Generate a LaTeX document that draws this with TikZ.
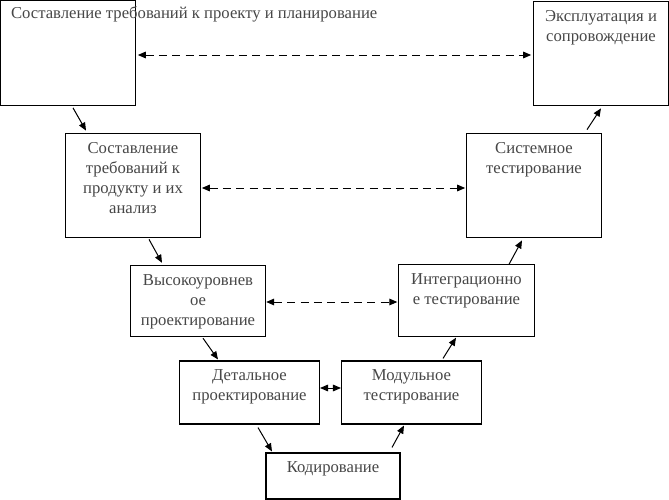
\documentclass[tikz,border=0pt]{standalone}
\usepackage{fontspec}
\setmainfont{Liberation Serif}
\usetikzlibrary{arrows.meta,positioning,calc}

\begin{document}
\begin{tikzpicture}[x=0.75pt,y=-0.75pt,
    stage/.style={draw,line width=0.8pt,inner sep=0pt,fill=white},
    big/.style={stage,minimum width=101pt,minimum height=78.5pt},
    mid/.style={stage,minimum width=101.5pt,minimum height=53.5pt},
    low/.style={stage,minimum width=105pt,minimum height=47.25pt},
    txt/.style={text=black!72,font=\fontsize{12.5}{15}\selectfont,align=center,inner sep=0pt},
    head/.style={-{Triangle[length=6pt,width=5pt]}},
    flow/.style={line width=0.75pt,head},
    link/.style={line width=0.75pt,{Triangle[length=6pt,width=5pt]}-{Triangle[length=6pt,width=5pt]}}]
    \useasboundingbox (0,0) rectangle (669,500);

    % Left branch
    \node[big,label={[txt,anchor=north west,xshift=8pt,yshift=-5pt]north west:Составление требований к проекту и планирование}] (plan) at (68,53) {};
    \node[big,label={[txt,anchor=north,yshift=-7pt]north:Составление\\требований к\\продукту и их\\анализ}] (req) at (133,185.5) {};
    \node[mid,label={[txt,anchor=north,yshift=-7pt]north:Высокоуровнев\\ое\\проектирование}] (hld) at (198,301) {};
    \node[low,label={[txt,anchor=north,yshift=-7pt]north:Детальное\\проектирование}] (dld) at (249.5,392.5) {};

    % Bottom
    \node[stage,minimum width=100.5pt,minimum height=34.5pt,label={[txt,anchor=north,yshift=-7pt]north:Кодирование}] (code) at (333,476) {};

    % Right branch
    \node[low,label={[txt,anchor=north,yshift=-7pt]north:Модульное\\тестирование}] (unit) at (411.5,392.5) {};
    \node[mid,label={[txt,anchor=north,yshift=-7pt]north:Интеграционно\\е тестирование}] (integ) at (466.5,300.5) {};
    \node[big,label={[txt,anchor=north,yshift=-7pt]north:Системное\\тестирование}] (sys) at (534,185.5) {};
    \node[big,label={[txt,anchor=north,yshift=-7pt]north:Эксплуатация и\\сопровождение}] (ops) at (601,53.5) {};

    % Flow down and up
    \draw[flow] ($(plan.south)+(5,2)$) -- ($(req.north)+(-47,-2)$);
    \draw[flow] ($(req.south)+(16,1)$) -- ($(hld.north)+(-36,-2)$);
    \draw[flow] ($(hld.south)+(5,1)$) -- ($(dld.north)+(-31.5,-1)$);
    \draw[flow] ($(dld.south)+(8.5,3)$) -- ($(code.north)+(-61,-1)$);
    \draw[flow] ($(code.north)+(59,-5)$) -- ($(unit.south)+(-7.5,1)$);
    \draw[flow] ($(unit.north)+(31.5,-2)$) -- ($(integ.south)+(-10.5,1)$);
    \draw[flow] ($(integ.north)+(42.5,0)$) -- ($(sys.south)+(-12,2)$);
    \draw[flow] ($(sys.north)+(53,-3)$) -- ($(ops.south)+(0,2)$);

    % Links between levels
    \draw[link,dash pattern=on 6pt off 4pt] ($(plan.east)+(2,2)$) -- ($(ops.west)+(-2,1.5)$);
    \draw[link,dash pattern=on 6pt off 4pt] ($(req.east)+(1,2.5)$) -- ($(sys.west)+(-1,2.5)$);
    \draw[link,dash pattern=on 6pt off 4pt] ($(hld.east)+(0,1)$) -- ($(integ.west)+(-1,1.5)$);
    \draw[link] ($(dld.east)+(0,-4.5)$) -- ($(unit.west)+(0,-4.5)$);
\end{tikzpicture}
\end{document}
